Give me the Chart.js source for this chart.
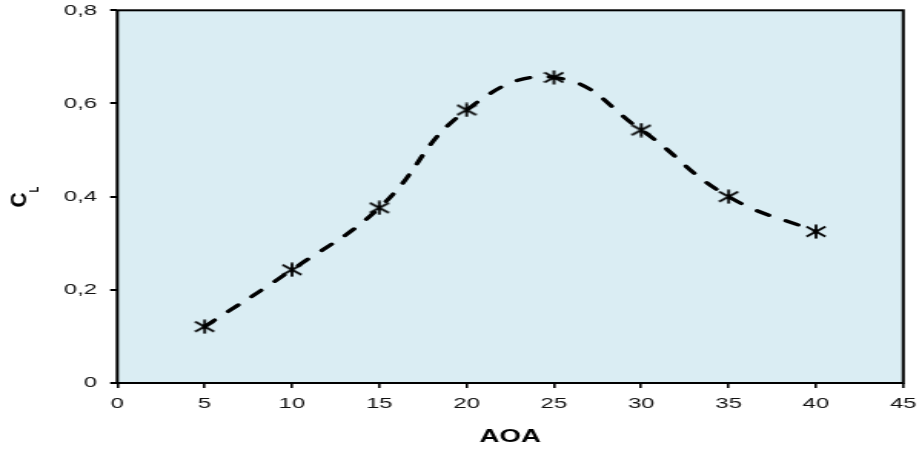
<!DOCTYPE html>
<html>
<head>
<meta charset="utf-8">
<script src="https://cdn.jsdelivr.net/npm/chart.js@4/dist/chart.umd.min.js"></script>
<style>
  html, body { margin: 0; padding: 0; background: #ffffff; }
  #c { display: block; width: 922px; height: 452px; }
</style>
</head>
<body>
<canvas id="c" width="600" height="452" style="width:922px;height:452px;"></canvas>
<script>
// ---- data ----
const aoa = [5, 10, 15, 20, 25, 30, 35, 40];
const cl = [0.121, 0.243, 0.376, 0.586, 0.656, 0.543, 0.400, 0.325];
const xTickValues = [0, 5, 10, 15, 20, 25, 30, 35, 40, 45];
const yTickLabels = ['0', '0,2', '0,4', '0,6', '0,8'];
const xTitle = 'AOA';
const yTitleMain = 'C';
const yTitleSub = 'L';

// asterisk marker (X + vertical bar)
function makeMarker() {
  const m = document.createElement('canvas');
  m.width = 14; m.height = 15;
  const g = m.getContext('2d');
  g.strokeStyle = '#000';
  g.lineWidth = 1.8;
  g.beginPath();
  g.moveTo(0.8, 2.5); g.lineTo(13.2, 12.5);
  g.moveTo(13.2, 2.5); g.lineTo(0.8, 12.5);
  g.moveTo(7, 0.5); g.lineTo(7, 14.5);
  g.stroke();
  return m;
}

const plotFrame = {
  id: 'plotFrame',
  beforeDatasetsDraw(chart) {
    const {ctx, chartArea: a} = chart;
    ctx.save();
    ctx.fillStyle = '#DAEDF3';
    ctx.fillRect(a.left, a.top, a.right - a.left, a.bottom - a.top);
    ctx.strokeStyle = '#000';
    ctx.lineWidth = 2;
    ctx.strokeRect(a.left, a.top, a.right - a.left, a.bottom - a.top);
    ctx.restore();
  },
  afterDraw(chart) {
    const ctx = chart.ctx;
    ctx.save();
    ctx.fillStyle = '#000';
    ctx.textAlign = 'left';
    ctx.textBaseline = 'alphabetic';
    ctx.translate(16.5, 207.5);
    ctx.rotate(-Math.PI / 2);
    ctx.scale(1.45, 1);
    ctx.font = 'bold 14.5px "Liberation Sans", Arial, sans-serif';
    ctx.fillText(yTitleMain, 0, 0);
    ctx.restore();
    ctx.save();
    ctx.fillStyle = '#000';
    ctx.textAlign = 'left';
    ctx.textBaseline = 'alphabetic';
    ctx.translate(24.7, 192.5);
    ctx.rotate(-Math.PI / 2);
    ctx.font = 'bold 9.5px "Liberation Sans", Arial, sans-serif';
    ctx.fillText(yTitleSub, 0, 0);
    ctx.restore();
  }
};

const tickFont = { family: '"Liberation Sans", Arial, sans-serif', size: 15.5 };

new Chart(document.getElementById('c'), {
  type: 'line',
  data: {
    datasets: [{
      data: aoa.map((x, i) => ({ x: x, y: cl[i] })),
      borderColor: '#000',
      borderWidth: 3.3,
      borderDash: [9, 12.5],
      borderCapStyle: 'round',
      tension: 0.45,
      fill: false,
      pointStyle: makeMarker(),
      pointRadius: 7,
      pointHoverRadius: 7
    }]
  },
  options: {
    responsive: false,
    maintainAspectRatio: false,
    devicePixelRatio: 1,
    animation: false,
    events: [],
    layout: { padding: { left: 0, right: 12.2, top: 10, bottom: 0 } },
    plugins: { legend: { display: false }, tooltip: { enabled: false } },
    scales: {
      x: {
        type: 'linear',
        min: 0, max: 45,
        afterFit(s) { s.height = 69; s.paddingLeft = 0; s.paddingRight = 0; },
        afterBuildTicks(s) { s.ticks = xTickValues.map(v => ({ value: v })); },
        border: { display: false },
        grid: { drawOnChartArea: false, drawTicks: true, tickLength: 5, color: '#000', lineWidth: 1.6 },
        ticks: { color: '#111', font: tickFont, padding: 6, maxRotation: 0, autoSkip: false },
        title: {
          display: true, text: xTitle, color: '#000',
          font: { family: '"Liberation Sans", Arial, sans-serif', size: 18, weight: 'bold' },
          padding: { top: 0, bottom: 4.2 }
        }
      },
      y: {
        type: 'linear',
        min: 0, max: 0.8,
        afterFit(s) { s.width = 76.3; s.paddingTop = 0; s.paddingBottom = 0; },
        afterBuildTicks(s) { s.ticks = yTickLabels.map((t, i) => ({ value: i * 0.2 })); },
        border: { display: false },
        grid: { drawOnChartArea: false, drawTicks: true, tickLength: 4.6, color: '#000', lineWidth: 2 },
        ticks: {
          color: '#111', font: tickFont, padding: 8.6, autoSkip: false,
          callback: (v, i) => yTickLabels[i]
        }
      }
    }
  },
  plugins: [plotFrame]
});
</script>
</body>
</html>
